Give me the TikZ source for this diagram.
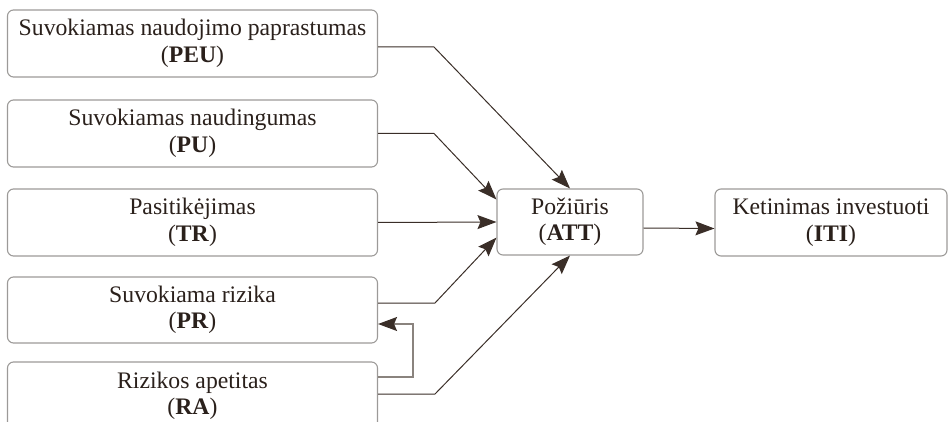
\documentclass[tikz,border=0pt]{standalone}
\usepackage{fontspec}
\setmainfont{Liberation Serif}
\usetikzlibrary{arrows.meta}

\begin{document}
\begin{tikzpicture}[x=1pt, y=-1pt,
    box/.style={draw=box_grey, line width=1.1pt, rounded corners=6pt,
        align=center, inner sep=0pt, text=txt_brown,
        font=\fontsize{23.7}{26.5}\selectfont},
    leftbox/.style={box, minimum width=370pt, minimum height=67pt},
    link/.style={draw=line_brown, line width=1pt,
        -{Stealth[length=19pt, width=14pt, inset=3pt, color=line_brown]}},
    backlink/.style={link, draw=back_grey, line width=1.2pt}]
    \definecolor{box_grey}{HTML}{9C9A98}
    \definecolor{txt_brown}{HTML}{2A201B}
    \definecolor{line_brown}{HTML}{3A2E28}
    \definecolor{back_grey}{HTML}{8A837E}
    %\draw[help lines] (0,0) grid[step=50] (948,422);
    \useasboundingbox (0,0) rectangle (948,422);
    \clip (0,0) rectangle (948,422);

    \node[leftbox] (peu) at (192.5,43.5) {Suvokiamas naudojimo paprastumas\\(\textbf{PEU})};
    \node[leftbox] (pu) at (192.5,133.5) {Suvokiamas naudingumas\\(\textbf{PU})};
    \node[leftbox] (tr) at (192.5,222.5) {Pasitikėjimas\\(\textbf{TR})};
    \node[leftbox, minimum height=66pt] (pr) at (192.5,310) {Suvokiama rizika\\(\textbf{PR})};
    \node[leftbox, minimum height=68pt] (ra) at (192.5,396) {Rizikos apetitas\\(\textbf{RA})};

    \node[box, minimum width=146pt, minimum height=66pt] (att) at (570,222) {Požiūris\\(\textbf{ATT})};
    \node[box, minimum width=232pt, minimum height=67pt] (iti) at (831,222.5) {Ketinimas investuoti\\(\textbf{ITI})};

    \draw[link] ([yshift=-3.5pt]peu.east) -- (434,47) -- (att.north);
    \draw[link] (pu.east) -- (434,133.5) -- (att.163);
    \draw[link] (tr.east) -- (att.west);
    \draw[link] ([yshift=7pt]pr.east) -- (435,303) -- (att.192);
    \draw[link] ([yshift=2pt]ra.east) -- (435,394) -- (att.south);
    \draw[backlink] ([yshift=19pt]ra.east) -- (413,377) |- ([yshift=-14pt]pr.east);
    \draw[link] ([yshift=-6pt]att.east) -- ([yshift=-6pt]iti.west);

\end{tikzpicture}
\end{document}
